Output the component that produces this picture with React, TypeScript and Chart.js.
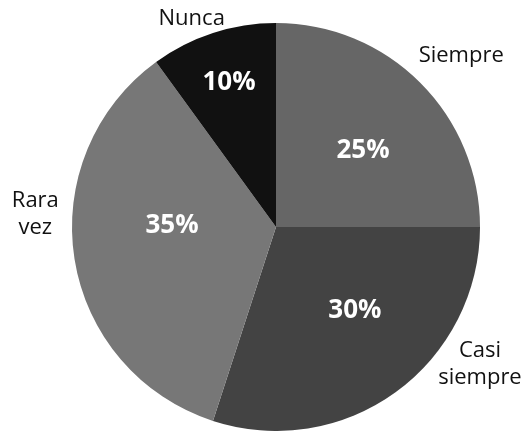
import React, { useEffect, useRef } from "react";
import { Chart, registerables } from "chart.js";

Chart.register(...registerables);

const categories: string[][] = [["Siempre"], ["Casi", "siempre"], ["Rara", "vez"], ["Nunca"]];
const values: number[] = [25, 30, 35, 10];
const colors: string[] = ["#666666", "#434343", "#777777", "#111111"];

// label placement (style): polar positions relative to pie centre, radius in units of a 204px pie
const innerAngleDeg: number[] = [48.9, 136.8, 270.6, 342];
const innerRadius: number[] = [115.5, 115.3, 104, 152];
const outerAngleDeg: number[] = [47.3, 124, 273, 338];
const outerRadius: number[] = [252, 246, 241, 225];

const FONT = "'Open Sans', 'Noto Sans', sans-serif";

const labelPlugin = {
  id: "pieLabels",
  afterDatasetsDraw(chart: any) {
    const ctx = chart.ctx;
    const meta = chart.getDatasetMeta(0);
    const total = values.reduce((a, b) => a + b, 0);
    ctx.save();
    ctx.textAlign = "center";
    ctx.textBaseline = "middle";
    meta.data.forEach((arc: any, i: number) => {
      const { x, y, outerRadius: r } = arc.getProps(["x", "y", "outerRadius"], true);
      const s = r / 204;
      const ia = (innerAngleDeg[i] * Math.PI) / 180;
      ctx.fillStyle = "#ffffff";
      ctx.font = `bold 26px ${FONT}`;
      const pct = Math.round((values[i] / total) * 100) + "%";
      ctx.fillText(pct, x + Math.sin(ia) * innerRadius[i] * s, y - Math.cos(ia) * innerRadius[i] * s);

      const a = (outerAngleDeg[i] * Math.PI) / 180;
      const ox = x + Math.sin(a) * outerRadius[i] * s;
      const oy = y - Math.cos(a) * outerRadius[i] * s;
      ctx.fillStyle = "#111111";
      ctx.font = `22px ${FONT}`;
      const lines = categories[i];
      const lh = 27;
      lines.forEach((ln, k) => {
        ctx.fillText(ln, ox, oy + (k - (lines.length - 1) / 2) * lh);
      });
    });
    ctx.restore();
  },
};

export default function App() {
  const ref = useRef<HTMLCanvasElement | null>(null);
  useEffect(() => {
    if (!ref.current) return;
    const chart = new Chart(ref.current, {
      type: "pie",
      data: {
        labels: categories.map((c) => c.join(" ")),
        datasets: [
          {
            data: values,
            backgroundColor: colors,
            borderWidth: 0,
          },
        ],
      },
      options: {
        animation: false,
        responsive: false,
        maintainAspectRatio: false,
        layout: { padding: { left: 72, right: 45, top: 23, bottom: 0 } },
        plugins: {
          legend: { display: false },
          tooltip: { enabled: false },
          title: { display: false },
        },
      },
      plugins: [labelPlugin],
    });
    return () => chart.destroy();
  }, []);
  return (
    <div style={{ position: "absolute", left: 0, top: 0, width: 525, height: 431, background: "#fff" }}>
      <canvas ref={ref} width={525} height={431} style={{ width: 525, height: 431 }} />
    </div>
  );
}
